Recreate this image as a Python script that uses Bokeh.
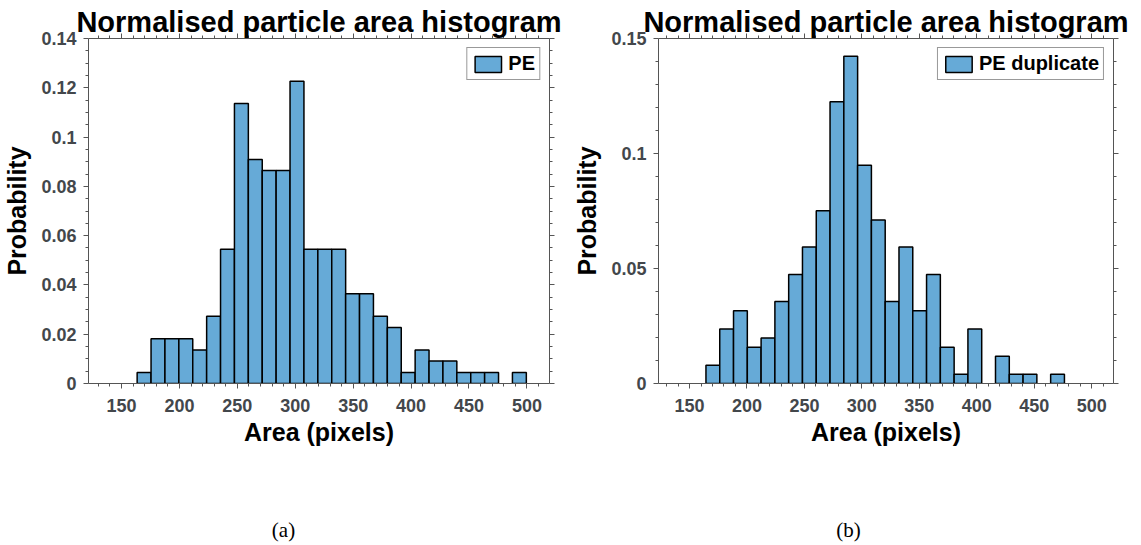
from bokeh.plotting import figure
from bokeh.layouts import row, column
from bokeh.models import (FixedTicker, LinearAxis, Legend, LegendItem, Range1d, Label,
                          ColumnDataSource, NumeralTickFormatter, CustomJSTickFormatter)
from bokeh.embed import file_html
from bokeh.resources import INLINE

# ---------------- data ----------------
edges_a = [163.5, 175.5, 187.5, 199.5, 211.5, 223.5, 235.5, 247.5, 259.5, 271.5,
           283.5, 295.5, 307.5, 319.5, 331.5, 343.5, 355.5, 367.5, 379.5, 391.5,
           403.5, 415.5, 427.5, 439.5, 451.5, 463.5, 475.5, 487.5, 499.5]
prob_a = [0.0045, 0.0182, 0.0182, 0.0182, 0.0136, 0.0273, 0.0545, 0.1136, 0.0909, 0.0864,
          0.0864, 0.1227, 0.0545, 0.0545, 0.0545, 0.0364, 0.0364, 0.0273, 0.0227, 0.0045,
          0.0136, 0.0091, 0.0091, 0.0045, 0.0045, 0.0045, 0.0, 0.0045]

edges_b = [164.3, 176.3, 188.3, 200.3, 212.3, 224.3, 236.3, 248.3, 260.3, 272.3,
           284.3, 296.3, 308.3, 320.3, 332.3, 344.3, 356.3, 368.3, 380.3, 392.3,
           404.3, 416.3, 428.3, 440.3, 452.3, 464.3, 476.3]
prob_b = [0.0079, 0.0237, 0.0316, 0.0158, 0.0198, 0.0356, 0.0474, 0.0593, 0.0751, 0.1225,
          0.1423, 0.0949, 0.0711, 0.0356, 0.0593, 0.0316, 0.0474, 0.0158, 0.0040, 0.0237,
          0.0, 0.0119, 0.0040, 0.0040, 0.0, 0.0040]

x_ticks = [150, 200, 250, 300, 350, 400, 450, 500]
x_minor = [130, 140, 160, 170, 180, 190, 210, 220, 230, 240, 260, 270, 280, 290, 310, 320,
           330, 340, 360, 370, 380, 390, 410, 420, 430, 440, 460, 470, 480, 490, 510]
y_ticks_a = [0, 0.02, 0.04, 0.06, 0.08, 0.1, 0.12, 0.14]
y_minor_a = [0.005, 0.01, 0.015, 0.025, 0.03, 0.035, 0.045, 0.05, 0.055, 0.065, 0.07, 0.075,
             0.085, 0.09, 0.095, 0.105, 0.11, 0.115, 0.125, 0.13, 0.135]
y_ticks_b = [0, 0.05, 0.1, 0.15]
y_minor_b = [0.01, 0.02, 0.03, 0.04, 0.06, 0.07, 0.08, 0.09, 0.11, 0.12, 0.13, 0.14]

title_text = "Normalised particle area histogram"
x_label = "Area (pixels)"
y_label = "Probability"
captions = ["(a)", "(b)"]

# ---------------- style ----------------
SANS = "Liberation Sans"
BAR_FILL = "#66AAD7"
AX_COL = "#555555"
TICK_LABEL_COL = "#43474b"
CHART_H = 470
CAP_H = 75


def make_panel(edges, probs, xr, yr, yt, ym, legend_label, width, border_left, border_right):
    top_b, bottom_b = 38, CHART_H - 383
    p = figure(width=width, height=CHART_H, output_backend="svg", toolbar_location=None,
               x_range=Range1d(*xr), y_range=Range1d(*yr),
               min_border_left=border_left, min_border_right=border_right,
               min_border_top=top_b, min_border_bottom=bottom_b,
               x_axis_location=None, y_axis_location=None)
    p.grid.visible = False
    p.outline_line_color = None
    p.background_fill_color = "white"
    p.border_fill_color = "white"

    left = [edges[i] for i in range(len(probs)) if probs[i] > 0]
    right = [edges[i + 1] for i in range(len(probs)) if probs[i] > 0]
    top = [probs[i] for i in range(len(probs)) if probs[i] > 0]
    src = ColumnDataSource(dict(left=left, right=right, top=top, bottom=[0] * len(top)))
    r = p.quad(left="left", right="right", top="top", bottom="bottom", source=src,
               fill_color=BAR_FILL, line_color="black", line_width=1.5)

    xt = FixedTicker(ticks=x_ticks, minor_ticks=x_minor)
    ytk = FixedTicker(ticks=yt, minor_ticks=ym)

    def style(ax, labels=True):
        ax.axis_line_color = AX_COL
        ax.axis_line_width = 1
        ax.major_tick_line_color = AX_COL
        ax.minor_tick_line_color = AX_COL
        ax.major_tick_in = 0
        ax.major_tick_out = 5
        ax.minor_tick_in = 0
        ax.minor_tick_out = 3
        ax.axis_label_text_font = SANS
        ax.axis_label_text_font_style = "bold"
        ax.axis_label_text_color = "black"
        if labels:
            ax.major_label_text_font = SANS
            ax.major_label_text_font_style = "bold"
            ax.major_label_text_font_size = "18px"
            ax.major_label_text_color = TICK_LABEL_COL
            ax.axis_label_text_font_size = "25px"
        else:
            ax.formatter = CustomJSTickFormatter(code="return ''")
            ax.major_label_text_font_size = "0px"
            ax.major_label_standoff = 0

    xb = LinearAxis(ticker=xt, axis_label=x_label)
    style(xb)
    xb.major_label_standoff = 10
    xb.axis_label_standoff = 3
    p.add_layout(xb, "below")

    yl = LinearAxis(ticker=ytk, axis_label=y_label, formatter=NumeralTickFormatter(format="0.[00]"))
    style(yl)
    yl.major_label_standoff = 7
    yl.axis_label_standoff = 7
    p.add_layout(yl, "left")

    # top mirrored axis carries the panel title as its label
    xa = LinearAxis(ticker=xt, axis_label=title_text)
    style(xa, labels=False)
    xa.axis_label_text_font_size = "29px"
    xa.axis_label_standoff = -4
    p.add_layout(xa, "above")

    yr_ax = LinearAxis(ticker=ytk)
    style(yr_ax, labels=False)
    p.add_layout(yr_ax, "right")

    legend = Legend(items=[LegendItem(label=legend_label, renderers=[r])],
                    location="top_right", margin=9, padding=4, spacing=0,
                    glyph_width=33, glyph_height=20, label_height=20, label_standoff=4,
                    label_text_font=SANS, label_text_font_style="bold",
                    label_text_font_size="20px", label_text_color="black",
                    border_line_color="#333333", border_line_width=1.5,
                    background_fill_color="white", background_fill_alpha=1)
    p.add_layout(legend)
    return p


pa = make_panel(edges_a, prob_a, (121.5, 519.5), (0, 0.14), y_ticks_a, y_minor_a, "PE",
                570, 87, 21)
pb = make_panel(edges_b, prob_b, (123.0, 519.0), (0, 0.15), y_ticks_b, y_minor_b, "PE duplicate",
                571, 82, 28)

# caption strip below the two panels (pixel coordinates)
cap = figure(width=1141, height=CAP_H, output_backend="svg", toolbar_location=None,
             x_range=Range1d(0, 1141), y_range=Range1d(0, CAP_H),
             min_border=0, min_border_left=0, min_border_right=0,
             min_border_top=0, min_border_bottom=0,
             x_axis_location=None, y_axis_location=None)
cap.grid.visible = False
cap.outline_line_color = None
cap.background_fill_color = "white"
cap.border_fill_color = "white"
for cx, txt in zip([283, 848], captions):
    cap.add_layout(Label(x=cx, y=16, text=txt, text_font="Liberation Serif",
                         text_font_size="21px", text_color="black",
                         text_align="center", text_baseline="middle"))

layout = column(row(pa, pb), cap)
open("out.html", "w").write(file_html(layout, INLINE))
